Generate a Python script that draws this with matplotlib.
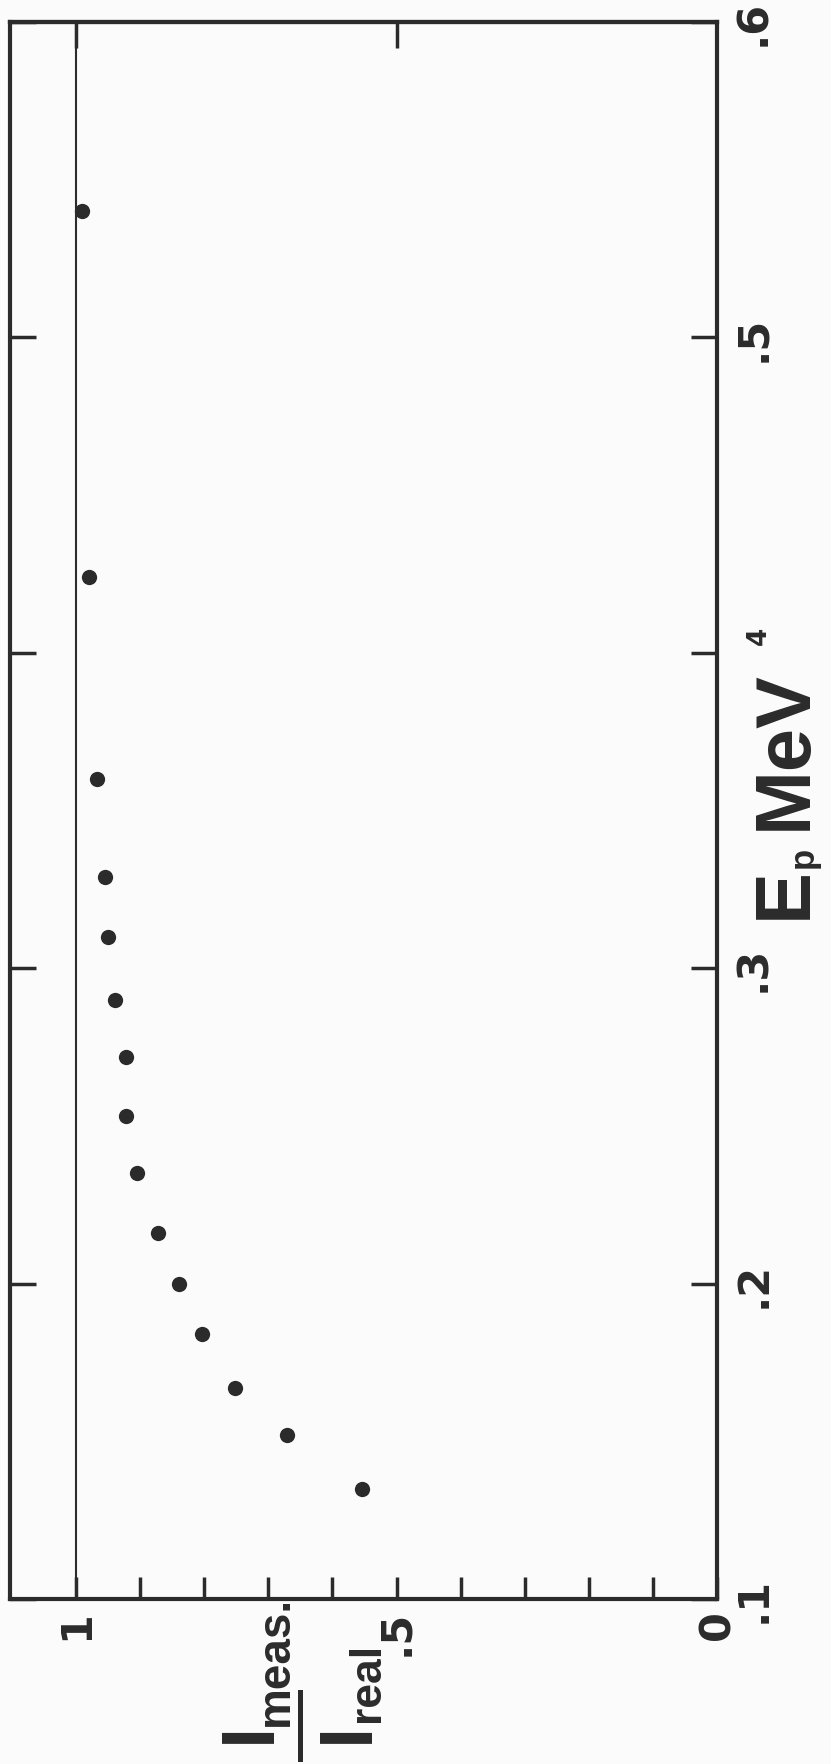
import matplotlib
matplotlib.use('Agg')
import matplotlib.pyplot as plt
from matplotlib import font_manager
from matplotlib.lines import Line2D

# measured / real intensity against proton lab energy
ep_mev = [0.540, 0.424, 0.360, 0.329, 0.310, 0.290, 0.272, 0.253,
          0.235, 0.216, 0.200, 0.184, 0.167, 0.152, 0.135]
ratio = [0.991, 0.980, 0.967, 0.955, 0.950, 0.939, 0.922, 0.922,
         0.905, 0.872, 0.839, 0.803, 0.752, 0.671, 0.554]

ratio_ticks = [0.0, 0.1, 0.2, 0.3, 0.4, 0.5, 0.6, 0.7, 0.8, 0.9, 1.0]
ratio_labels = ['0', '', '', '', '', '.5', '', '', '', '', '1']
ep_ticks = [0.1, 0.2, 0.3, 0.4, 0.5, 0.6]
ep_labels = ['.1', '.2', '.3', '', '.5', '.6']

ink = '#2b2b2b'
paper = '#fbfbfb'

available = {f.name for f in font_manager.fontManager.ttflist}
narrow = 'Liberation Sans Narrow' if 'Liberation Sans Narrow' in available else 'Liberation Sans'
plt.rcParams['font.family'] = ['DejaVu Sans']

W, H = 831, 1765
fig = plt.figure(figsize=(W / 100, H / 100), dpi=100, facecolor=paper)
ax = fig.add_axes([10 / W, 1 - 1600 / H, 707 / W, 1577 / H], facecolor=paper)

ax.plot(ratio, ep_mev, 'o', color=ink, ms=11, mec='none')
ax.axvline(1.0, color=ink, lw=1.5)

ax.set_xlim(1.103, 0)
ax.set_ylim(0.1, 0.6)
for s in ax.spines.values():
    s.set_linewidth(3.0)
    s.set_color(ink)

ax.set_xticks(ratio_ticks, ratio_labels)
ax.tick_params(axis='x', direction='in', length=16, width=2.5, pad=7,
               labelsize=31, labelrotation=90, color=ink, labelcolor=ink)
ax.set_yticks(ep_ticks, ep_labels)
ax.tick_params(axis='y', direction='in', left=True, right=True,
               labelleft=False, labelright=True, length=19, width=2.5,
               pad=11, labelsize=31, labelrotation=90, color=ink, labelcolor=ink)
for t in ax.yaxis.get_major_ticks():
    t.label2.set_va('center')
    t.label2.set_fontweight('bold')
for t in ax.xaxis.get_major_ticks():
    t.label1.set_fontweight('bold')

# the ".4" label is mostly lost under the axis title, only the 4 shows
ax.annotate('4', xy=(1, 0.4), xycoords=('axes fraction', 'data'),
            xytext=(21, 13), textcoords='offset points', rotation=90,
            ha='left', va='center', fontsize=19, fontweight='bold', color=ink)

top = ax.secondary_xaxis('top')
top.set_xticks([0.5, 1.0])
top.tick_params(direction='in', length=19, width=2.5, labeltop=False, color=ink)
top.spines['top'].set_linewidth(3.0)
top.spines['top'].set_color(ink)


def put(s, x, y, **kw):
    fig.text(x / W, 1 - y / H, s, rotation=90, ha='center', va='center',
             color=ink, **kw)


# axis title on the right: E_p MeV
bold = ['Liberation Sans', 'DejaVu Sans']
put('E', 785, 893, fontsize=56, fontweight='bold', family=bold)
put('p', 803, 857, fontsize=25, fontweight='bold', family=bold)
put('MeV', 785, 750, fontsize=56, fontweight='bold', family=bold)

# axis title at the bottom: I_meas / I_real
put('I', 250, 1732, fontsize=55, fontweight='bold', family=bold)
put('meas.', 276, 1661, fontsize=33, fontweight='bold', family=[narrow, 'DejaVu Sans'])
put('I', 348, 1732, fontsize=55, fontweight='bold', family=bold)
put('real', 367, 1682, fontsize=32, fontweight='bold', family=[narrow, 'DejaVu Sans'])
fig.add_artist(Line2D([300 / W, 300 / W], [1 - 1693 / H, 1 - 1760 / H],
                      transform=fig.transFigure, lw=3.6, color=ink))

fig.savefig('out.png', dpi=100, facecolor=paper)
